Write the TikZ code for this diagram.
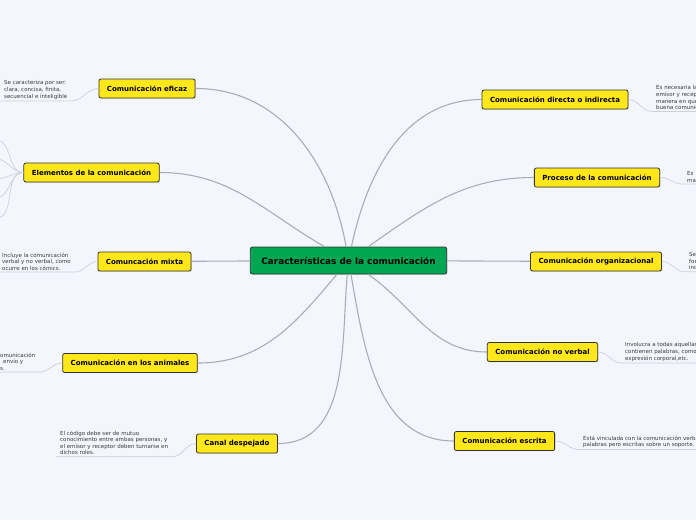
\documentclass[tikz,border=0pt]{standalone}
\usepackage{fontspec}
\setmainfont{DejaVu Sans}
\usetikzlibrary{positioning, shadows}
\definecolor{paper}{HTML}{F3F6FD}
\definecolor{topicyellow}{HTML}{FFE71A}
\definecolor{rootgreen}{HTML}{00A651}
\definecolor{branchgray}{HTML}{A9ADB7}
\definecolor{leafgray}{HTML}{CDD1D9}
\definecolor{notetext}{HTML}{3A3A3A}
\tikzset{
x=1pt, y=-1pt, % one unit is one pixel of the map, y runs downwards
topic/.style={draw=black!80, fill=topicyellow, line width=0.8pt, rounded corners=2pt,
  font=\bfseries\fontsize{7}{8}\selectfont, inner xsep=8pt, minimum height=19pt,
  drop shadow={shadow xshift=0.7pt, shadow yshift=-0.7pt, opacity=0.3}}, % the yellow topics
central/.style={topic, fill=rootgreen, font=\bfseries\fontsize{8.9}{10}\selectfont,
  inner xsep=11pt, minimum height=27pt}, % the main idea in the middle
note/.style={anchor=north west, align=left, inner xsep=4pt, inner ysep=1.5pt,
  text=notetext, font=\fontsize{5.5}{6.6}\selectfont}, % small text under a topic
branch/.style={draw=branchgray, line width=1.1pt}, % main idea to topic
leaf/.style={draw=leafgray, line width=0.7pt}, % topic to its note
}

\begin{document}
\begin{tikzpicture}
    \clip (0,0) rectangle (696,520);
    \fill[paper] (0,0) rectangle (696,520);

    \node[central] (caract) at (348.5,260.5) {Características de la comunicación};

    \node[topic] (eficaz) at (147,88.5) {Comunicación eficaz};
    \node[topic] (elementos) at (91.5,172.5) {Elementos de la comunicación};
    \node[topic] (mixta) at (144.5,261.5) {Comuncación mixta};
    \node[topic] (animales) at (130,363) {Comunicación en los animales};
    \node[topic] (canal) at (237,443.5) {Canal despejado};
    \node[topic] (directa) at (555,99.5) {Comunicación directa o indirecta};
    \node[topic] (proceso) at (597,177.5) {Proceso de la comunicación};
    \node[topic] (organiz) at (596,261.5) {Comunicación organizacional};
    \node[topic] (noverbal) at (542.5,352) {Comunicación no verbal};
    \node[topic] (escrita) at (504.5,441) {Comunicación escrita};

    % notes
    \node[note] (eficazN) at (0,79) {Se caracteriza por ser:\\clara, concisa, finita,\\secuencial e inteligible};
    \node[note] (mixtaN) at (-2,251) {Incluye la comunicación\\verbal y no verbal, como\\ocurre en los cómics.};
    \node[note] (animalesN) at (-4,351) {omunicación\\\hspace*{3pt}envío y\\s.};
    \node[note] (canalN) at (56,429) {El código debe ser de mutuo\\conocimiento entre ambas personas, y\\el emisor y receptor deben turnarse en\\dichos roles.};
    \node[note] (directaN) at (652,84) {Es necesaria la\\emisor y recep\\manera en que\\buena comunic};
    \node[note] (procesoN) at (683,170) {Es\\ma};
    \node[note] (organizN) at (685,251) {Se\\for\\inc};
    \node[note] (noverbalN) at (621,341) {Involucra a todas aquellas\\contienen palabras, como\\expresión corporal,etc.};
    \node[note] (escritaN) at (579,434) {Está vinculada con la comunicación verba\\palabras pero escritas sobre un soporte.};

    \foreach \yy [count=\i] in {140,159,179,198,218}
        \coordinate (elem\i) at (-4,\yy);

    \draw[branch]
        (caract) edge[out=100, in=0] (eficaz)
        (caract) edge[out=150, in=0] (elementos)
        (caract) edge (mixta)
        (caract) edge[out=-130, in=0] (animales)
        (caract) edge[out=-95, in=0] (canal)
        (caract) edge[out=78, in=180] (directa)
        (caract) edge[out=35, in=180] (proceso)
        (caract) edge (organiz)
        (caract) edge[out=-35, in=180] (noverbal)
        (caract) edge[out=-80, in=180] (escrita)
        ;

    \foreach \i in {1,...,5}
        \draw[leaf] (elementos.west) to[out=180, in=0] (elem\i);

    \draw[leaf] (eficaz.west) to[out=180, in=0] (eficazN.south east) -- (eficazN.south west);
    \draw[leaf] (mixta.west) to[out=180, in=0] (mixtaN.south east) -- (mixtaN.south west);
    \draw[leaf] (animales.west) to[out=180, in=0] (animalesN.south east) -- (animalesN.south west);
    \draw[leaf] (canal.west) to[out=180, in=0] (canalN.south east) -- (canalN.south west);
    \draw[leaf] (directa.east) to[out=0, in=180] (directaN.south west) -- (directaN.south east);
    \draw[leaf] (proceso.east) to[out=0, in=180] (procesoN.south west) -- (procesoN.south east);
    \draw[leaf] (organiz.east) to[out=0, in=180] (organizN.south west) -- (organizN.south east);
    \draw[leaf] (noverbal.east) to[out=0, in=180] (noverbalN.south west) -- (noverbalN.south east);
    \draw[leaf] (escrita.east) to[out=0, in=180] (escritaN.south west) -- (escritaN.south east);
\end{tikzpicture}
\end{document}
